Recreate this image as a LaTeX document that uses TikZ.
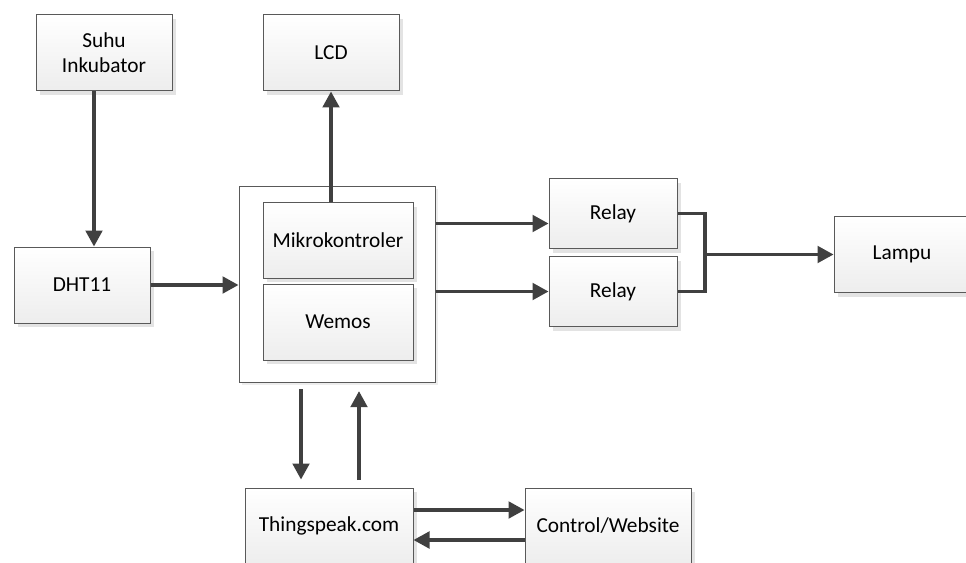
\documentclass[tikz,border=0pt]{standalone}
\usepackage{fontspec}
\setmainfont{Carlito}
\usetikzlibrary{arrows.meta, positioning, shadows}

\begin{document}
\begin{tikzpicture}[
    x=0.75pt, y=-0.75pt,
    >={Triangle[length=12pt, width=12.5pt]},
    font=\fontsize{16}{19}\selectfont,
    block/.style={
        draw=black!65, line width=0.75pt,
        top color=white, bottom color=black!7,
        drop shadow={shadow xshift=3pt, shadow yshift=-3pt, fill=black!11, opacity=1},
        minimum width=102pt, minimum height=57pt,
        align=center, inner sep=0pt,
    },
    outerbox/.style={
        draw=black!65, line width=0.75pt, fill=white,
        drop shadow={shadow xshift=2pt, shadow yshift=-2pt, fill=black!7, opacity=1},
        minimum width=147pt, minimum height=147pt, inner sep=0pt,
    },
    link/.style={draw=black!75, line width=2.3pt},
]

    \useasboundingbox (0,0) rectangle (966,563);
    \clip (0,0) rectangle (966,563);

    % blocks
    \node[block] (suhu) at (104,53)  {Suhu\\Inkubator};
    \node[block] (lcd)  at (331,53)  {LCD};
    \node[block] (dht)  at (82,285)  {DHT11};

    \node[outerbox] (mcu) at (337,284) {};
    \node[block, minimum width=112.5pt, minimum height=56.5pt] (mikro) at (338,240.5) {Mikrokontroler};
    \node[block, minimum width=112.5pt, minimum height=57pt]   (wemos) at (338,322)   {Wemos};

    \node[block, minimum width=96pt, minimum height=52.5pt] (relA) at (613,213.5) {Relay};
    \node[block, minimum width=96pt, minimum height=52.5pt] (relB) at (613,291.5) {Relay};
    \node[block] (lampu) at (902,254.5) {Lampu};

    \node[block, minimum width=126pt]   (thing) at (329,526) {Thingspeak.com};
    \node[block, minimum width=124.5pt] (web)   at (608,526) {Control/Website};

    \coordinate (jn) at (705,254.5);

    % connectors
    \draw[link, ->] ([xshift=-7.5pt]suhu.south) -- ([xshift=-7.5pt]suhu.south |- dht.north);
    \draw[link, ->] (mikro.north -| lcd.south) -- (lcd.south);
    \draw[link, ->] (dht.east) -- (dht.east -| mcu.west);
    \draw[link, ->] ([yshift=-7.5pt]relA.west -| mcu.east) -- ([yshift=-7.5pt]relA.west);
    \draw[link, ->] (relB.west -| mcu.east) -- (relB.west);
    \draw[link] (relA.east) -| (jn) |- (relB.east);
    \draw[link, ->] (jn) -- (jn -| lampu.west);
    \draw[link, ->, shorten <=5pt, shorten >=6pt]
        ([xshift=-27pt]mcu.south) -- ([xshift=-27pt]mcu.south |- thing.north);
    \draw[link, ->, shorten <=5.5pt, shorten >=6.5pt]
        ([xshift=16.5pt]mcu.south |- thing.north) -- ([xshift=16.5pt]mcu.south);
    \draw[link, ->] ([yshift=12pt]thing.east) -- ([yshift=12pt]web.west);
    \draw[link, ->] ([yshift=-10.5pt]web.west) -- ([yshift=-10.5pt]thing.east);
\end{tikzpicture}
\end{document}
